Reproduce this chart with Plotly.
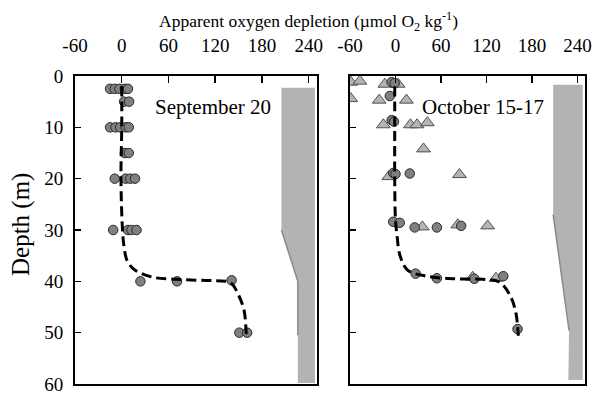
import plotly.graph_objects as go

# ---------------- data ----------------
# September 20 (left panel): circles
sep_depth = [2.5, 2.5, 2.5, 2.5, 2.5, 5, 5, 10, 10, 10, 10, 10, 15, 15,
             20, 20, 20, 20, 30, 30, 30, 30, 40, 40, 39.8, 50, 50]
sep_aod = [-15, -9, -3, 4, 8, 3, 9.5, -15, -8, -2, 5, 9, 4, 9,
           -9, 5, 11, 17, -11, 8, 12.5, 19, 24, 71, 141, 151, 161]
# September 20 fitted profile (dashed)
sep_fit_depth = [2, 10, 20, 30, 33.3, 36, 37.8, 39.2, 39.6, 39.8, 39.9, 40.3, 42.7, 45.6, 48.2, 50.8]
sep_fit_aod = [0, 0, -1, 1, 3, 7, 17, 40, 70, 100, 122, 140, 150, 157, 159, 160]
# September 20 shaded profile
sep_shade_aod = [205, 205, 226, 226, 248, 248]
sep_shade_depth = [2.3, 30, 40, 59.8, 59.8, 2.3]
sep_edge_aod = [205, 226, 226]
sep_edge_depth = [30, 40, 50.5]

# October 15-17 (right panel): circles and triangles
oct_c_depth = [1.2, 1.4, 3.9, 8.6, 8.9, 18.9, 19.1, 19.0, 28.4, 28.6, 29.5, 29.5, 29.2,
               38.5, 39.4, 39.5, 39.0, 49.3]
oct_c_aod = [-5, -1, -7.5, -5, -2, -3, 0, 18.8, -3, 5.6, 25.3, 54.6, 86.6,
             26.6, 54.6, 104, 142.2, 161]
oct_t_depth = [1.2, 1.0, 1.6, 1.6, 4.4, 4.7, 4.7, 9.5, 9.5, 9.5, 9.1, 14.2, 19.6, 19.2,
               29.4, 29.0, 29.2, 39.2, 39.4]
oct_t_aod = [-59, -47, -14, 3.4, -59, -21.5, 14.4, -16, 19.7, 28.4, 42, 37, -8.8, 84.4,
             35.4, 82.2, 121.6, 101.9, 132.6]
oct_fit_depth = [2, 10, 20, 28, 31, 35, 37.8, 39, 39.5, 39.6, 40.1, 43, 46.3, 50.6]
oct_fit_aod = [-1, -1, -1, 0, 2, 6, 16, 41, 76, 115, 137, 152, 159, 162]
oct_shade_aod = [208, 208, 229, 228, 247, 247]
oct_shade_depth = [1.7, 27, 49.6, 59.2, 59.2, 1.7]
oct_edge_aod = [208, 229]
oct_edge_depth = [27, 49.6]

x_ticks = [-60, 0, 60, 120, 180, 240]
y_ticks = [0, 10, 20, 30, 40, 50, 60]

# ---------------- styles ----------------
FONT = "Liberation Serif, Times New Roman, serif"
circ = dict(symbol="circle", size=9.5, color="#808080", line=dict(color="#2a2a2a", width=1))
tri = dict(symbol="triangle-up", size=12, color="#b4b4b4", line=dict(color="#505050", width=1))
dash_line = dict(color="black", width=3, dash="10px,5px")
shade_fill = "#b3b3b3"
edge_col = "#8a8a8a"

fig = go.Figure()

# Left panel
fig.add_trace(go.Scatter(x=sep_shade_aod, y=sep_shade_depth, fill="toself", fillcolor=shade_fill,
                         mode="lines", line=dict(width=0), xaxis="x", yaxis="y", hoverinfo="skip"))
fig.add_trace(go.Scatter(x=sep_edge_aod, y=sep_edge_depth, mode="lines",
                         line=dict(color=edge_col, width=1.5), xaxis="x", yaxis="y"))
fig.add_trace(go.Scatter(x=sep_aod, y=sep_depth, mode="markers", marker=circ, xaxis="x", yaxis="y"))
fig.add_trace(go.Scatter(x=sep_fit_aod, y=sep_fit_depth, mode="lines", line=dict(shape="spline", **dash_line),
                         xaxis="x", yaxis="y"))

# Right panel
fig.add_trace(go.Scatter(x=oct_shade_aod, y=oct_shade_depth, fill="toself", fillcolor=shade_fill,
                         mode="lines", line=dict(width=0), xaxis="x2", yaxis="y2", hoverinfo="skip"))
fig.add_trace(go.Scatter(x=oct_edge_aod, y=oct_edge_depth, mode="lines",
                         line=dict(color=edge_col, width=1.5), xaxis="x2", yaxis="y2"))
fig.add_trace(go.Scatter(x=oct_t_aod, y=oct_t_depth, mode="markers", marker=tri, xaxis="x2", yaxis="y2"))
fig.add_trace(go.Scatter(x=oct_c_aod, y=oct_c_depth, mode="markers", marker=circ, xaxis="x2", yaxis="y2"))
fig.add_trace(go.Scatter(x=oct_fit_aod, y=oct_fit_depth, mode="lines", line=dict(shape="spline", **dash_line),
                         xaxis="x2", yaxis="y2"))

W, H = 599, 395


def px(p):
    return p / W


def py(p):
    return 1 - p / H


xa = dict(range=[-60, 250], tickvals=x_ticks, ticktext=[str(v) for v in x_ticks], side="top",
          ticks="inside", ticklen=7, tickwidth=1.5, tickcolor="black",
          showline=True, linecolor="black", linewidth=2, mirror=True, automargin=False,
          showgrid=False, zeroline=False, tickfont=dict(size=19, color="black"),
          ticklabelstandoff=14, ticklabeloverflow="allow")
ya = dict(range=[60, 0], tickvals=y_ticks, ticks="inside", ticklen=6, tickwidth=1.5, tickcolor="black",
          showline=True, linecolor="black", linewidth=2, mirror=True, automargin=False,
          showgrid=False, zeroline=False, tickfont=dict(size=19, color="black"),
          ticklabelstandoff=6, ticklabeloverflow="allow")

fig.update_layout(
    template="none",
    width=W, height=H,
    margin=dict(l=0, r=0, t=0, b=0, autoexpand=False),
    paper_bgcolor="white", plot_bgcolor="white",
    showlegend=False,
    hovermode=False,
    font=dict(family=FONT, color="black"),
    xaxis=dict(domain=[px(75), px(316.5)], anchor="y", **xa),
    yaxis=dict(domain=[py(384), py(76)], anchor="x", **ya),
    xaxis2=dict(domain=[px(350), px(585)], anchor="y2", **xa),
    yaxis2=dict(domain=[py(384), py(76)], anchor="x2", showticklabels=False, **ya),
    annotations=[
        dict(text="Apparent oxygen depletion (µmol O<sub>2</sub> kg<sup>-1</sup>)",
             xref="paper", yref="paper", x=px(308), y=py(22), xanchor="center", yanchor="middle",
             showarrow=False, font=dict(size=17.5)),
        dict(text="Depth (m)", xref="paper", yref="paper", x=px(21), y=py(225),
             xanchor="center", yanchor="middle", textangle=-90, showarrow=False, font=dict(size=25)),
        dict(text="September 20", xref="x", yref="y", x=40, y=6, xanchor="left", yanchor="middle",
             showarrow=False, font=dict(size=21)),
        dict(text="October 15-17", xref="x2", yref="y2", x=32, y=6, xanchor="left", yanchor="middle",
             showarrow=False, font=dict(size=21)),
    ],
)

# remove the default 8px page margin so the 599x395 figure fills the window exactly
fig.write_html("out.html", config={"displayModeBar": False, "staticPlot": True},
               post_script="document.body.style.margin='0px';")
